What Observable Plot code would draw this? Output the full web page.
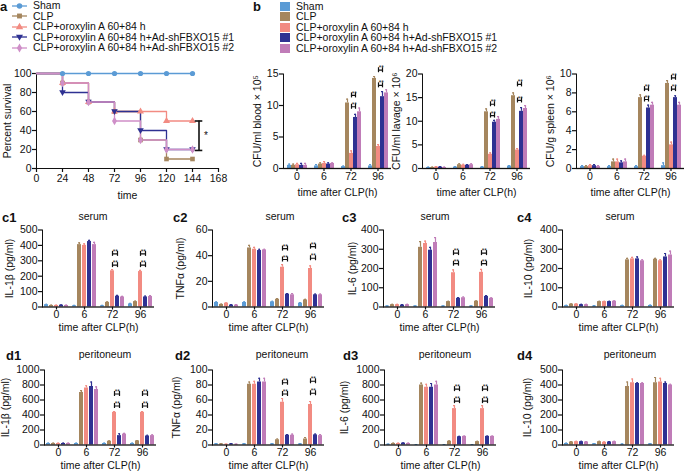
<!DOCTYPE html>
<html><head><meta charset="utf-8">
<script src="https://cdn.jsdelivr.net/npm/d3@7"></script>
<script src="https://cdn.jsdelivr.net/npm/@observablehq/plot@0.6"></script>
<style>
body{margin:0;background:#fff;}
#fig{position:relative;width:685px;height:473px;overflow:hidden;font-family:"Liberation Sans",Arial,sans-serif;color:#111;background:#fff;}
#fig svg{position:absolute;overflow:visible;}
.t{position:absolute;white-space:nowrap;line-height:1;}
.lab{font-weight:bold;font-size:13px;}
.ttl{font-size:10.5px;transform:translateX(-50%);}
.leg{font-size:10.5px;}
#fig svg [aria-label$="tick"]{stroke-width:1.2px;}
#fig svg [aria-label$="label"] text{font-size:10.5px;}
</style></head><body><div id="fig"></div><script>
// ---------- data ----------
const groups = ["Sham","CLP","CLP+oroxylin A 60+84 h","CLP+oroxylin A 60+84 h+Ad-shFBXO15 #1","CLP+oroxylin A 60+84 h+Ad-shFBXO15 #2"];
const colors = ["#5b9bd5","#a5865e","#f28b82","#2e3192","#c07cb8"];
const times = ["0","6","72","96"];

// survival (panel a)
const survTimes = [0,24,48,72,96,120,144];
const survXTicks = [0,24,48,72,96,120,144,168];
const survYTicks = [0,20,40,60,80,100];
const survSham = [100,100,100,100,100,100,100];
const survCLP  = [100,90,70,60,30,10,10];
const survOro  = [100,90,70,60,60,50,50];
const survSh1  = [100,80,70,60,40,20,20];
const survSh2  = [100,90,70,50,30,20,20];
const survSig = {x: 150, y1: 19, y2: 50, cap: 3.5, label: "*"};

// bacterial load (panel b) rows = times, cols = groups
const bloodMean = [[0.5,0.5,0.6,0.5,0.5],[0.4,0.7,0.8,0.7,0.8],[0.3,10.4,2.4,8.1,9.0],[0.4,14.3,3.5,11.4,12.0]];
const bloodErr  = [[0.2,0.2,0.2,0.3,0.3],[0.2,0.2,0.3,0.2,0.1],[0.1,0.6,0.4,0.5,0.6],[0.2,0.3,0.3,0.8,0.5]];
const bloodSig  = [["72",9.8,11.6],["96",13.2,15.6]];
const lavageMean = [[0.2,0.2,0.3,0.3,0.2],[0.3,0.8,0.7,0.7,0.8],[0.3,12.0,3.0,9.8,10.4],[0.5,15.4,3.9,12.1,12.7]];
const lavageErr  = [[0.1,0.1,0.1,0.1,0.1],[0.1,0.2,0.2,0.1,0.2],[0.1,0.6,0.3,0.4,0.6],[0.1,0.6,0.3,0.8,0.6]];
const lavageSig  = [["72",11.2,13.6],["96",14.4,17.8]];
const spleenMean = [[0.2,0.2,0.3,0.3,0.2],[0.2,0.7,0.7,0.6,0.7],[0.2,7.5,1.3,6.4,6.7],[0.3,9.0,2.5,7.5,6.7]];
const spleenErr  = [[0.1,0.1,0.1,0.1,0.1],[0.1,0.3,0.3,0.2,0.3],[0.1,0.3,0.1,0.3,0.3],[0.3,0.3,0.3,0.2,0.3]];
const spleenSig  = [["72",7.3,8.4],["96",8.4,9.6]];

// serum cytokines (panel c)
const sIL1bMean = [[15,10,10,12,10],[8,405,400,425,405],[8,30,235,70,65],[20,35,230,65,68]];
const sIL1bErr  = [[3,2,2,2,2],[2,12,10,8,15],[2,3,8,5,4],[3,3,8,5,6]];
const sIL1bSig  = [["72",272,345],["96",272,345]];
const sTNFMean = [[3.5,2,3,1.5,1.5],[3.5,46,45,44,44.5],[4,6,31,10,9.5],[3,5.5,30,9.5,9.5]];
const sTNFErr  = [[0.5,0.3,0.3,0.3,0.3],[0.5,2,1.5,1,0.5],[0.5,0.5,2,0.5,1],[0.5,0.5,2,0.5,0.5]];
const sTNFSig  = [["72",37,45.5],["96",38,47]];
const sIL6Mean = [[5,12,12,10,12],[5,310,330,295,335],[5,28,178,45,48],[5,30,180,55,45]];
const sIL6Err  = [[1,2,2,2,2],[1,30,12,15,25],[1,2,15,4,4],[1,2,15,4,3]];
const sIL6Sig  = [["72",225,280],["96",225,280]];
const sIL10Mean = [[7,15,15,12,12],[5,28,28,28,30],[7,245,250,250,240],[8,248,240,260,270]];
const sIL10Err  = [[2,2,2,2,2],[2,2,2,2,2],[2,8,8,10,5],[2,5,5,18,20]];

// peritoneal cytokines (panel d)
const pIL1bMean = [[20,20,20,20,20],[20,700,760,780,740],[20,50,435,125,145],[20,55,435,120,125]];
const pIL1bErr  = [[5,5,5,5,5],[5,25,30,60,35],[5,5,10,25,10],[5,5,10,10,10]];
const pIL1bSig  = [["72",520,680],["96",520,680]];
const pTNFMean = [[1.5,1.5,1,1.5,1],[1.5,81,81,84,84],[1.5,7,57,13,13],[1.5,8,54,13.5,12.5]];
const pTNFErr  = [[0.3,0.3,0.3,0.3,0.3],[0.3,3,4,5,5],[0.3,1,5,1,1.5],[0.3,2,4,1,1.5]];
const pTNFSig  = [["72",68,83],["96",69,85]];
const pIL6Mean = [[10,20,20,25,20],[5,800,770,770,800],[5,50,485,110,115],[5,45,485,115,115]];
const pIL6Err  = [[3,5,5,5,5],[2,25,40,50,50],[2,5,40,5,5],[2,5,40,5,5]];
const pIL6Sig  = [["72",585,745],["96",585,745]];
const pIL10Mean = [[10,20,22,22,20],[8,22,18,20,22],[5,390,415,410,410],[8,415,420,410,400]];
const pIL10Err  = [[2,3,3,3,3],[2,3,3,3,3],[2,30,25,5,5],[2,35,25,10,5]];

// ---------- helpers ----------
const FONT = '"Liberation Sans", Arial, sans-serif';
const fig = document.getElementById("fig");
function put(el, left, top){ el.style.left = left+"px"; el.style.top = top+"px"; fig.appendChild(el); return el; }
function text(str, cls, left, top){ const d=document.createElement("div"); d.className="t "+cls; d.textContent=str; return put(d,left,top); }

function tidy(mean, err){
  const rows=[];
  times.forEach((t,i)=>groups.forEach((g,j)=>rows.push({time:t, series:g, value:mean[i][j], err:err[i][j]})));
  return rows;
}
function bracketRows(sig){
  const pts=[];
  (sig||[]).forEach(([t,lo,hi])=>{
    [lo,hi].forEach((y,k)=>{
      const id=t+"-"+k;
      pts.push({time:t, series:groups[2], y, id});
      pts.push({time:t, series:groups[3], y, id});
    });
  });
  return pts;
}

function barPanel(c){
  const rows = tidy(c.mean, c.err);
  const br = bracketRows(c.sig);
  const svg = Plot.plot({
    width: c.ml + c.pw + 2, height: c.mt + c.ph + c.mb,
    marginLeft: c.ml, marginRight: 2, marginTop: c.mt, marginBottom: c.mb,
    style: {background:"transparent", fontFamily: FONT, fontSize:"11.5px", color:"#111"},
    fx: {domain: times, padding: 0, axis: "bottom", label: "time after CLP(h)", labelAnchor: "center", labelOffset: c.xlo, tickSize: 3, tickPadding: 1},
    x: {domain: groups, axis: null, paddingInner: 0.12, paddingOuter: 0.3},
    y: {domain: c.domain, ticks: c.ticks, tickFormat: d=>String(d), line: true, label: c.ylabel, labelAnchor: "center", labelOffset: c.ylo, labelArrow: "none", tickSize: 4, tickPadding: 1},
    color: {domain: groups, range: colors},
    marks: [
      Plot.barY(rows, {fx:"time", x:"series", y:"value", fill:"series"}),
      Plot.ruleX(rows, {fx:"time", x:"series", y1:"value", y2:d=>d.value+d.err, stroke:"series", strokeWidth:1.2}),
      Plot.tickY(rows, {fx:"time", x:"series", y:d=>d.value+d.err, stroke:"series", strokeWidth:1.2, insetLeft:1, insetRight:1}),
      Plot.ruleY([0], {stroke:"#111", strokeWidth:1.3}),
      Plot.lineY(br, {fx:"time", x:"series", y:"y", z:"id", stroke:"#111", strokeWidth:1.2}),
      Plot.ruleX(br, {fx:"time", x:"series", y1:"y", y2:"y", insetTop:-2.5, insetBottom:-2.5, stroke:"#111", strokeWidth:1.2}),
      Plot.text(br.filter((d,i)=>i%2===0), {fx:"time", x:"series", y:"y", text:()=>"**", dx:2.8, dy:-2, fontSize:6.5, fill:"#111"})
    ]
  });
  put(svg, c.left, c.top);
}

// ---------- panel a ----------
const survSeries = [survSham, survCLP, survOro, survSh1, survSh2];
const survRows = [];
survSeries.forEach((vals,j)=>survTimes.forEach((t,i)=>survRows.push({series:groups[j], t, v:vals[i]})));
const downTri = {draw(ctx,size){const h=Math.sqrt(size)*0.62; ctx.moveTo(-h*1.15,-h*0.75); ctx.lineTo(h*1.15,-h*0.75); ctx.lineTo(0,h*1.2); ctx.closePath();}};
const symbols = [d3.symbolCircle, d3.symbolSquare, d3.symbolTriangle, downTri, d3.symbolDiamond];
const survColors = ["#5b9bd5","#a5865e","#f28b82","#2e3192","#cf8fc8"];

const aSvg = Plot.plot({
  width: 230, height: 140, marginLeft: 36, marginRight: 12, marginTop: 10, marginBottom: 35,
  style: {background:"transparent", fontFamily: FONT, fontSize:"11.5px", color:"#111"},
  x: {domain:[0,168], ticks: survXTicks, line:true, label:"time", labelAnchor:"center", labelOffset: 30, labelArrow:"none", tickSize:4, tickPadding:2},
  y: {domain:[0,100], ticks: survYTicks, line:true, label:"Percent survival", labelAnchor:"center", labelOffset: 33, labelArrow:"none", tickSize:4, tickPadding:1},
  color: {domain: groups, range: survColors},
  symbol: {domain: groups, range: symbols},
  marks: [
    Plot.line(survRows, {x:"t", y:"v", z:"series", stroke:"series", curve:"step-after", strokeWidth:1.3}),
    Plot.dot(survRows.filter(d=>d.t>0), {x:"t", y:"v", fill:"series", symbol:"series", r:2.6}),
    Plot.ruleX([survSig], {x:"x", y1:"y1", y2:"y2", stroke:"#111", strokeWidth:1.6}),
    Plot.ruleY([survSig.y1, survSig.y2], {x1: survSig.x - survSig.cap, x2: survSig.x + survSig.cap, stroke:"#111", strokeWidth:1.6}),
    Plot.text([survSig], {x:"x", y:d=>(d.y1+d.y2)/2, text:"label", dx:7, fontSize:10, fill:"#111"})
  ]
});
put(aSvg, 0, 63);

// legend a
groups.forEach((g,j)=>{
  const y = 5.5 + j*10.6;
  const s = d3.create("svg").attr("width",17).attr("height",10);
  s.append("line").attr("x1",1).attr("x2",16).attr("y1",5).attr("y2",5).attr("stroke",survColors[j]).attr("stroke-width",1.3);
  s.append("path").attr("d", d3.symbol(symbols[j], 24)()).attr("transform","translate(8.5,5)").attr("fill",survColors[j]);
  put(s.node(), 11, y-5);
  text(g, "leg", 33, y-5.5);
});
text("a","lab",0,0);

// ---------- panel b ----------
groups.forEach((g,j)=>{
  const y = 6 + j*10.5;
  const d = document.createElement("div");
  d.style.cssText = `position:absolute;width:10px;height:9px;background:${colors[j]};`;
  put(d, 280, y-4.5);
  text(g, "leg", 296, y-5.5);
});
text("b","lab",253,0);

const bCommon = {top:63, mt:10.5, ph:94.5, mb:35, pw:109, ml:40, xlo:27, ylo:30};
barPanel({...bCommon, left:242, mean:bloodMean, err:bloodErr, sig:bloodSig, domain:[0,15], ticks:[0,5,10,15], ylabel:"CFU/ml blood × 10⁵"});
barPanel({...bCommon, left:381, mean:lavageMean, err:lavageErr, sig:lavageSig, domain:[0,20], ticks:[0,5,10,15,20], ylabel:"CFU/ml lavage × 10⁶"});
barPanel({...bCommon, left:535, mean:spleenMean, err:spleenErr, sig:spleenSig, domain:[0,10], ticks:[0,2,4,6,8,10], ylabel:"CFU/g spleen × 10⁶"});

// ---------- panel c ----------
const cCommon = {top:219, mt:10.5, ph:77, mb:32, pw:115, ml:40, xlo:24, ylo:37};
barPanel({...cCommon, left:0, mean:sIL1bMean, err:sIL1bErr, sig:sIL1bSig, domain:[0,500], ticks:[0,100,200,300,400,500], ylabel:"IL-1β (pg/ml)"});
barPanel({...cCommon, left:170, mean:sTNFMean, err:sTNFErr, sig:sTNFSig, domain:[0,60], ticks:[0,20,40,60], ylabel:"TNFα (pg/ml)", ylo:36});
barPanel({...cCommon, left:341, mean:sIL6Mean, err:sIL6Err, sig:sIL6Sig, domain:[0,400], ticks:[0,100,200,300,400], ylabel:"IL-6 (pg/ml)", ylo:35});
barPanel({...cCommon, left:520, mean:sIL10Mean, err:sIL10Err, sig:null, domain:[0,400], ticks:[0,100,200,300,400], ylabel:"IL-10 (pg/ml)", ylo:38});
[["c1",2,211,93],["c2",173,211,280],["c3",342,211,435],["c4",517,211,620]].forEach(([l,x,y,tx])=>{text(l,"lab",x,y); text("serum","ttl",tx,y);});

// ---------- panel d ----------
const dCommon = {top:358.5, mt:10.5, ph:75, mb:29, pw:115, ml:40, xlo:24, ylo:43};
barPanel({...dCommon, left:2, mean:pIL1bMean, err:pIL1bErr, sig:pIL1bSig, domain:[0,1000], ticks:[0,200,400,600,800,1000], ylabel:"IL-1β (pg/ml)"});
barPanel({...dCommon, left:170, mean:pTNFMean, err:pTNFErr, sig:pTNFSig, domain:[0,100], ticks:[0,20,40,60,80,100], ylabel:"TNFα (pg/ml)", ylo:40});
barPanel({...dCommon, left:342, mean:pIL6Mean, err:pIL6Err, sig:pIL6Sig, domain:[0,1000], ticks:[0,200,400,600,800,1000], ylabel:"IL-6 (pg/ml)", ylo:44});
barPanel({...dCommon, left:520, mean:pIL10Mean, err:pIL10Err, sig:null, domain:[0,500], ticks:[0,100,200,300,400,500], ylabel:"IL-10 (pg/ml)", ylo:39});
[["d1",6,349,105],["d2",175,349,282],["d3",343,349,445],["d4",517,349,630]].forEach(([l,x,y,tx])=>{text(l,"lab",x,y); text("peritoneum","ttl",tx,y);});
</script></body></html>
